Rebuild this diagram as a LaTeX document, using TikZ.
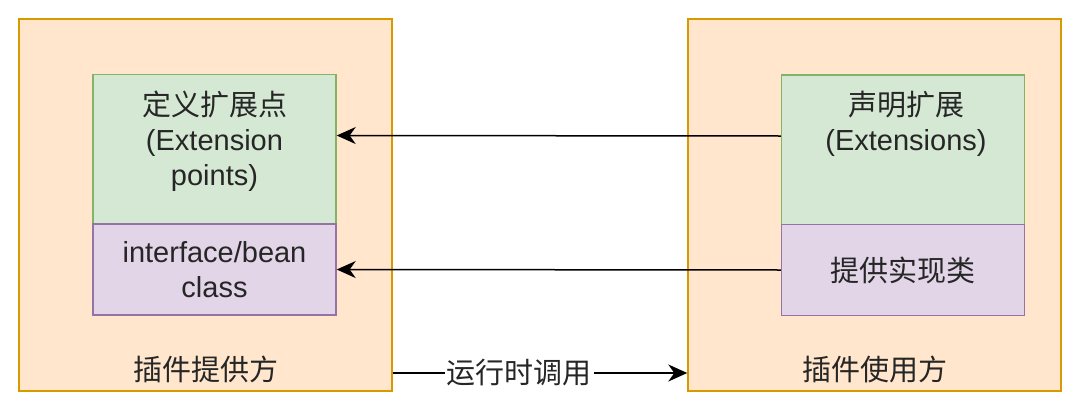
\documentclass[tikz,border=0pt]{standalone}
\usepackage{fontspec}
\setmainfont{Liberation Sans}
\newfontfamily\cjk{Noto Sans CJK SC}
\usetikzlibrary{arrows.meta}
\definecolor{orangefill}{HTML}{FFE6CC}
\definecolor{orangeline}{HTML}{D79B00}
\definecolor{greenfill}{HTML}{D5E8D4}
\definecolor{greenline}{HTML}{82B366}
\definecolor{purplefill}{HTML}{E1D5E7}
\definecolor{purpleline}{HTML}{9673A6}
\begin{document}
\begin{tikzpicture}[x=1pt, y=-1pt,
    plugin/.style={draw=orangeline, fill=orangefill, line width=1.4pt, minimum width=373pt, minimum height=372pt, inner sep=0pt},
    extbox/.style={draw=greenline, fill=greenfill, line width=1.4pt, minimum width=243pt, minimum height=150pt, inner sep=0pt},
    implbox/.style={draw=purpleline, fill=purplefill, line width=1.4pt, minimum width=243pt, minimum height=91pt, inner sep=0pt, txt},
    txt/.style={font=\fontsize{29}{35}\selectfont, align=center, text=black!85},
    flow/.style={-{Stealth[length=19pt, width=17pt, inset=6pt]}, line width=1.5pt}]
        \useasboundingbox (0,0) rectangle (1080,410);

        % Plugin provider
        \node[plugin] (provider) at (205.5, 205) {};
        \node[extbox] (defpt) at (214.5, 149.5) {};
        \node[txt] (defpttxt) at (214.5, 141) {\cjk 定义扩展点\\(Extension\\points)};
        \node[implbox] (iface) at (214.5, 269.5) {interface/bean\\class};
        \node[txt] (providertxt) at (205.5, 369) {\cjk 插件提供方};

        % Plugin user
        \node[plugin] (user) at (874.5, 205) {};
        \node[extbox] (ext) at (903, 150) {};
        \node[txt] (exttxt) at (906, 124) {\cjk 声明扩展\\ (Extensions)};
        \node[implbox] (impl) at (903, 270) {\cjk 提供实现类};
        \node[txt] (usertxt) at (874.5, 369) {\cjk 插件使用方};

        % Connections
        \draw[flow] ([yshift=14pt]ext.west) -- ([yshift=14pt]defpt.east);
        \draw[flow] (impl.west) -- (iface.west -| defpt.east);
        \draw[flow] ([yshift=-168pt]provider.east) -- ([yshift=-168pt]user.west)
            node[txt, pos=0.43, fill=white, inner xsep=2pt, inner ysep=0pt] (call) {\cjk 运行时调用};
    \end{tikzpicture}
\end{document}
